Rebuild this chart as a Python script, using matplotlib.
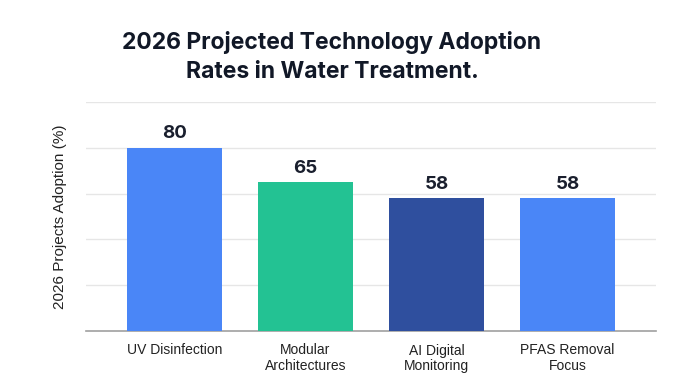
import matplotlib
matplotlib.use("Agg")
import matplotlib.pyplot as plt

# dados
categorias = ["UV Disinfection", "Modular\nArchitectures", "AI Digital\nMonitoring", "PFAS Removal\nFocus"]
valores = [80, 65, 58, 58]
cores = ["#4a86f7", "#23c293", "#2f4f9e", "#4a86f7"]

plt.rcParams["font.family"] = ["Inter", "DejaVu Sans"]
fonte_eixos = ["Liberation Sans", "DejaVu Sans"]

fig = plt.figure(figsize=(7, 3.91), dpi=100)
ax = fig.add_axes([86 / 700, 60 / 391, 570 / 700, 229 / 391])

x = range(len(categorias))
barras = ax.bar(x, valores, width=0.725, color=cores, zorder=3)

# rótulos de valor em cima de cada barra
for b, v in zip(barras, valores):
    ax.annotate(f"{v}", (b.get_x() + b.get_width() / 2, v), xytext=(0, 4),
                textcoords="offset points", ha="center", va="bottom",
                fontsize=13.5, fontweight="bold", color="#1a1f2e")

ax.set_xlim(-0.676, 3.676)
ax.set_ylim(0, 100)
ax.set_yticks([0, 20, 40, 60, 80, 100])
ax.set_yticklabels([])
ax.set_xticks(list(x))
ax.set_xticklabels(categorias, fontsize=10, color="#222222", linespacing=1.1, family=fonte_eixos)
ax.tick_params(axis="both", length=0)
ax.tick_params(axis="x", pad=9)

ax.grid(axis="y", color="#e6e6e6", linewidth=1, zorder=0)
for lado in ["top", "right", "left"]:
    ax.spines[lado].set_visible(False)
ax.spines["bottom"].set_color("#a0a0a0")
ax.spines["bottom"].set_linewidth(1.2)

ax.set_ylabel("2026 Projects Adoption (%)", fontsize=11, color="#222222", labelpad=10, family=fonte_eixos)

fig.text(332 / 700, 1 - 57 / 391, "2026 Projected Technology Adoption\nRates in Water Treatment.",
         ha="center", va="center", fontsize=16.5, fontweight="bold", color="#111827", linespacing=1.38)

fig.savefig("out.png", dpi=100, facecolor="white")
